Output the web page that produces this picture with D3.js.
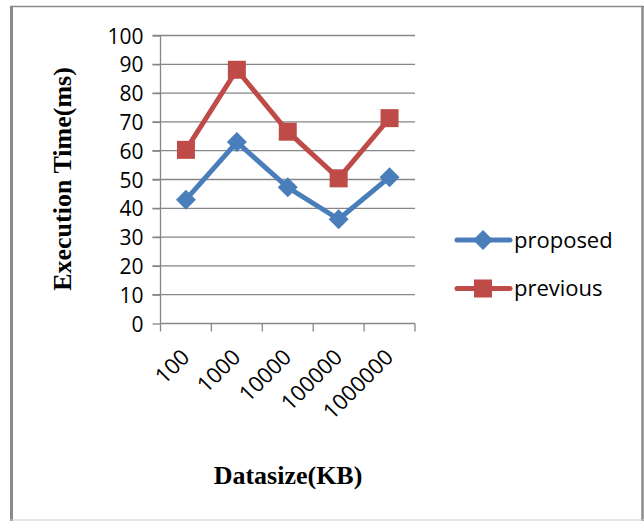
<!DOCTYPE html>
<html><head><meta charset="utf-8">
<script src="https://cdn.jsdelivr.net/npm/d3@7"></script>
<style>body{margin:0;background:#fff}svg{display:block}</style>
</head><body>
<script>
const categories = ["100","1000","10000","100000","1000000"];
const proposed = [43, 63, 47.3, 36.2, 50.8];
const previous = [60.3, 88.1, 66.6, 50.4, 71.3];
const yTicks = [0,10,20,30,40,50,60,70,80,90,100];
const seriesNames = ["proposed","previous"];
const colors = ["#4a7ebb","#be4b48"];

const W = 644, H = 521;
const svg = d3.select("body").append("svg").attr("width",W).attr("height",H);

// frame
svg.append("line").attr("x1",11.5).attr("x2",11.5).attr("y1",6).attr("y2",521).attr("stroke","#8a8a8a").attr("stroke-width",3);
svg.append("line").attr("x1",10).attr("x2",644).attr("y1",6.5).attr("y2",6.5).attr("stroke","#8a8a8a").attr("stroke-width",1.5);
svg.append("line").attr("x1",642.5).attr("x2",642.5).attr("y1",6).attr("y2",521).attr("stroke","#8a8a8a").attr("stroke-width",2.5);
svg.append("line").attr("x1",10).attr("x2",644).attr("y1",520).attr("y2",520).attr("stroke","#d0d0d0").attr("stroke-width",1.2);

const x0 = 160.5, x1 = 415, y0 = 323.5, y1 = 35.5;
const x = d3.scaleBand().domain(categories).range([x0,x1]);
const y = d3.scaleLinear().domain([0,100]).range([y0,y1]);
const FONT = "Open Sans, sans-serif";

// gridlines
svg.append("g").selectAll("line").data(yTicks.filter(d=>d>0)).join("line")
  .attr("x1",x0-8).attr("x2",x1).attr("y1",d=>y(d)).attr("y2",d=>y(d))
  .attr("stroke","#868686").attr("stroke-width",1.3);

// y axis
const ya = svg.append("g").attr("transform",`translate(${x0},0)`)
  .call(d3.axisLeft(y).tickValues(yTicks).tickSize(8).tickPadding(9));
ya.select(".domain").attr("stroke","#868686").attr("stroke-width",1.3).attr("d",`M0,${y0}V${y1}`);
ya.selectAll(".tick line").attr("stroke","#868686").attr("stroke-width",1.3);
ya.selectAll(".tick text").attr("font-family",FONT).attr("font-size",21).attr("fill","#000").attr("dy","0.36em");

// x axis
const xa = svg.append("g").attr("transform",`translate(0,${y0})`);
xa.append("line").attr("x1",x0).attr("x2",x1).attr("y1",0).attr("y2",0).attr("stroke","#868686").attr("stroke-width",1.3);
const bounds = categories.map(c=>x(c)).concat([x1]);
xa.selectAll("line.t").data(bounds).join("line").attr("class","t")
  .attr("x1",d=>d).attr("x2",d=>d).attr("y1",0).attr("y2",8).attr("stroke","#868686").attr("stroke-width",1.3);
xa.selectAll("text").data(categories).join("text")
  .attr("transform",d=>`translate(${x(d)+x.bandwidth()/2+5},${35}) rotate(-45)`)
  .attr("text-anchor","end").attr("font-family",FONT).attr("font-size",22).attr("fill","#000")
  .text(d=>d);

// lines
const data = [proposed, previous];
const line = d3.line().x((d,i)=>x(categories[i])+x.bandwidth()/2).y(d=>y(d));
data.forEach((s,k)=>{
  svg.append("path").datum(s).attr("d",line).attr("fill","none").attr("stroke",colors[k]).attr("stroke-width",5).attr("stroke-linejoin","round");
});
// markers
function marker(g,k,cx,cy){
  if(k===0){
    g.append("path").attr("d",`M${cx},${cy-10}L${cx+10},${cy}L${cx},${cy+10}L${cx-10},${cy}Z`).attr("fill",colors[0]);
  } else {
    g.append("rect").attr("x",cx-9).attr("y",cy-9).attr("width",18).attr("height",18).attr("fill",colors[1]);
  }
}
const mg = svg.append("g");
data.forEach((s,k)=>s.forEach((v,i)=>marker(mg,k,x(categories[i])+x.bandwidth()/2,y(v))));

// legend
const lg = svg.append("g");
seriesNames.forEach((n,k)=>{
  const ly = 240 + k*48.5;
  lg.append("line").attr("x1",457).attr("x2",510).attr("y1",ly).attr("y2",ly).attr("stroke",colors[k]).attr("stroke-width",5).attr("stroke-linecap","round");
  marker(lg,k,483,ly);
  lg.append("text").attr("x",514).attr("y",ly).attr("dy","0.36em").attr("font-family",FONT).attr("font-size",22).attr("fill","#000").text(n);
});

// titles
svg.append("text").attr("transform","translate(71,179) rotate(-90)").attr("text-anchor","middle")
  .attr("font-family","Liberation Serif, serif").attr("font-weight","bold").attr("font-size",26).text("Execution Time(ms)");
svg.append("text").attr("x",288).attr("y",484).attr("text-anchor","middle")
  .attr("font-family","Liberation Serif, serif").attr("font-weight","bold").attr("font-size",26).text("Datasize(KB)");
</script>
</body></html>
